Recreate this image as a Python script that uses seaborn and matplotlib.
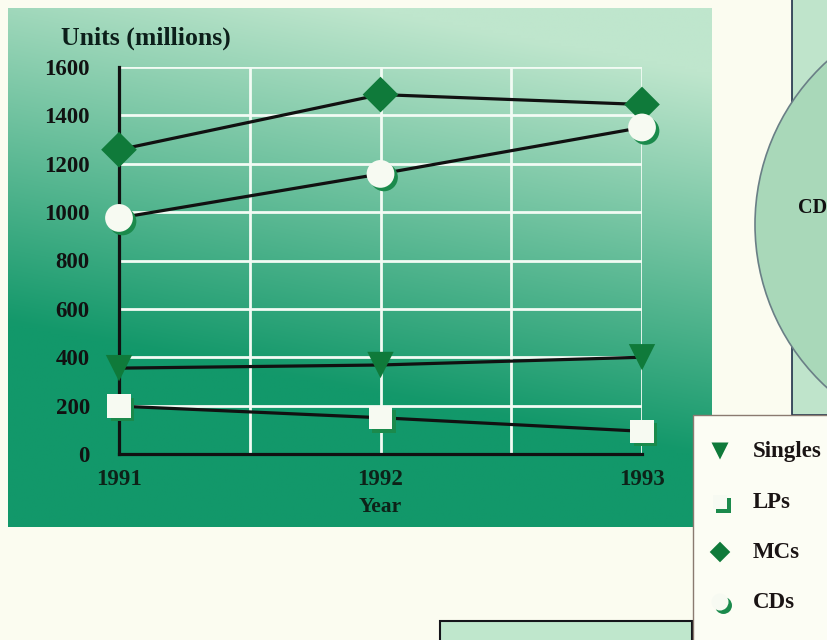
import numpy as np
import pandas as pd
import matplotlib
matplotlib.use("Agg")
import matplotlib.pyplot as plt
import matplotlib.patheffects as pe
from matplotlib.patches import Rectangle, Circle
import seaborn as sns

# ---- data ----
years = [1991, 1992, 1993]
singles = [355, 368, 400]
lps = [198, 150, 94]
mcs = [1258, 1486, 1445]
cds = [976, 1158, 1350]
series_names = ["Singles", "LPs", "MCs", "CDs"]
y_ticks = [0, 200, 400, 600, 800, 1000, 1200, 1400, 1600]
x_ticks = [1991, 1992, 1993]
y_title = "Units (millions)"
x_title = "Year"

sns.set_theme(style="white")
plt.rcParams["font.family"] = ["Liberation Serif", "DejaVu Serif"]
plt.rcParams["font.weight"] = "bold"

W, H = 828, 640
fig = plt.figure(figsize=(W / 100, H / 100), dpi=100, facecolor="#fbfcf0")

# ---- overlay (pixel coordinates) ----
ov = fig.add_axes([0, 0, 1, 1], zorder=0)
ov.axis("off")

# gradient panel
ny, nx = 200, 300
t = np.linspace(0, 1, ny)[:, None]
s = np.linspace(0, 1, nx)[None, :]
d = np.clip(t * 1.35 + (1 - s) * 0.35 - 0.17, 0, 1)
L = np.array(matplotlib.colors.to_rgb("#bfe6cd"))
D = np.array(matplotlib.colors.to_rgb("#13986a"))
img = L[None, None, :] + (D - L)[None, None, :] * d[:, :, None]
ov.imshow(img, extent=(8, 712, 527, 8), aspect="auto", zorder=1, interpolation="bilinear")

# right box behind pie
ov.add_patch(Rectangle((792, -5), 60, 420, facecolor="#bfe4cb", edgecolor="#20304a", lw=1.2, zorder=1))
ov.add_patch(Circle((976, 224.5), 221, facecolor="#a9d8b9", edgecolor="#6a7f86", lw=1.2, zorder=2))
ov.text(798, 208, "CD", fontsize=14.5, fontweight="bold", color="#111111", va="center", ha="left", zorder=3)

# bottom box
ov.add_patch(Rectangle((440, 621), 252, 30, facecolor="#bfe7cc", edgecolor="#15151a", lw=1.5, zorder=2))

# legend box
ov.add_patch(Rectangle((693, 415), 140, 230, facecolor="#fcfdf4", edgecolor="#8a7a70", lw=1.0, zorder=4))
leg_y = [451, 502, 552, 602]
leg_mk = ["v", "s", "D", "o"]
leg_sz = [150, 110, 110, 150]
leg_fc = ["#0f7a3a", "#f7faf2", "#0f7a3a", "#f7faf2"]
for yy, mk, sz, fc, name in zip(leg_y, leg_mk, leg_sz, leg_fc, series_names):
    effects = [pe.Normal()]
    if fc != "#0f7a3a":
        effects = [pe.SimplePatchShadow(offset=(2.5, -2.5), shadow_rgbFace="#1b8a4c", alpha=1.0), pe.Normal()]
    sc = ov.scatter([720], [yy], marker=mk, s=sz, c=fc, edgecolors="none", zorder=5)
    sc.set_path_effects(effects)
    ov.text(753, yy + 1, name, fontsize=16.5, fontweight="bold", color="#1a1414",
            va="center", ha="left", zorder=5)

ov.text(146, 38, y_title, fontsize=18.5, fontweight="bold", color="#0c1f1a", ha="center", va="center", zorder=3)

ov.set_xlim(0, W)
ov.set_ylim(H, 0)
ov.set_autoscale_on(False)

# ---- main chart axes ----
ax = fig.add_axes([119 / W, 1 - 454 / H, 523 / W, 387 / H], zorder=2)
ax.patch.set_alpha(0)

for yv in y_ticks[1:]:
    ax.axhline(yv, color="#f2fbf4", lw=2.0, zorder=1)
for xv in [1991.5, 1992, 1992.5, 1993]:
    ax.axvline(xv, color="#f2fbf4", lw=2.0, zorder=1)

df = pd.DataFrame({
    "year": years * 4,
    "units": singles + lps + mcs + cds,
    "series": sum([[n] * 3 for n in series_names], []),
})
sns.lineplot(data=df, x="year", y="units", units="series", estimator=None,
             color="#111111", lw=2.3, ax=ax, zorder=3, legend=False)

mk_map = {"Singles": "v", "LPs": "s", "MCs": "D", "CDs": "o"}
sz_map = {"Singles": 360, "LPs": 280, "MCs": 330, "CDs": 400}
fc_map = {"Singles": "#0f7a3a", "LPs": "#f7faf2", "MCs": "#0f7a3a", "CDs": "#f7faf2"}
for name in series_names:
    sub = df[df.series == name]
    sns.scatterplot(x=sub.year.values, y=sub.units.values, marker=mk_map[name],
                    s=sz_map[name], color=fc_map[name], edgecolor="none",
                    ax=ax, zorder=4, clip_on=False, legend=False)
    coll = ax.collections[-1]
    coll.set_clip_on(False)
    if fc_map[name] != "#0f7a3a":
        coll.set_path_effects([pe.SimplePatchShadow(offset=(2.5, -2.5), shadow_rgbFace="#1b8a4c", alpha=1.0),
                               pe.Normal()])

ax.set_xlim(1991, 1993)
ax.set_ylim(0, 1600)

for side in ["top", "right"]:
    ax.spines[side].set_visible(False)
for side in ["left", "bottom"]:
    ax.spines[side].set_color("#111111")
    ax.spines[side].set_linewidth(2.3)
    ax.spines[side].set_zorder(2.5)

ax.set_yticks(y_ticks)
ax.set_yticklabels([str(v) for v in y_ticks], fontsize=16.5, fontweight="bold", color="#111111")
ax.set_xticks(x_ticks)
ax.set_xticklabels([str(v) for v in x_ticks], fontsize=16.5, fontweight="bold", color="#0d2218")
ax.tick_params(axis="y", length=0, pad=21)
ax.tick_params(axis="x", length=0, pad=11)
ax.set_xlabel(x_title, fontsize=15.5, fontweight="bold", color="#0d2218", labelpad=5)
ax.set_ylabel("")
ax.grid(False)

fig.savefig("out.png", dpi=100, facecolor=fig.get_facecolor())
